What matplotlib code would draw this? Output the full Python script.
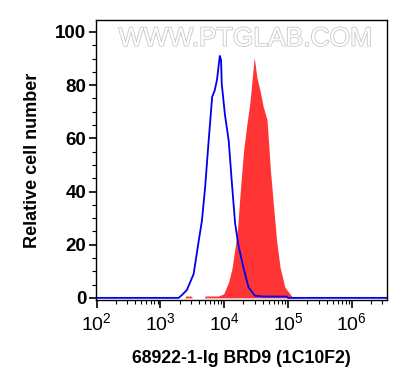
import matplotlib
matplotlib.use("Agg")
import numpy as np
from matplotlib import pyplot as plt
from matplotlib import ticker
from matplotlib import patheffects as pe

plt.rcParams["font.family"] = ["Liberation Sans", "DejaVu Sans"]
plt.rcParams["mathtext.fontset"] = "custom"
plt.rcParams["mathtext.rm"] = "Liberation Sans"
plt.rcParams["mathtext.it"] = "Liberation Sans"

# Isotype control (blue outline)
control_x = [100, 1930, 2200, 2600, 3311, 3981, 4467, 5012, 5689, 6457, 7079, 7691,
             8511, 8913, 9120, 10233, 11749, 13183, 14791, 16596, 19953,
             23988, 30200, 40738, 95500, 100000, 4000000]
control_y = [0, 0, 1.2, 3, 9, 21.5, 29, 41.6, 59, 75.6, 78, 82,
             91, 89.4, 80.6, 69, 59, 43, 28, 20, 11.4,
             4, 0.8, 0.5, 0.5, 0, 0]

# Stained sample (red fill)
sample_x = [100, 2400, 2500, 3000, 3160, 4900, 5000, 8000, 8700, 9800,
            11700, 13200, 14800, 16200, 17800, 20000, 22650, 25100, 26900,
            29500, 32400, 36300, 40700, 46800, 52500, 58900, 66100, 75000,
            89100, 114800, 141000, 4000000]
sample_y = [0, 0, 0.7, 0.7, 0, 0, 0.7, 0.7, 1, 1.5,
            6, 11, 19, 26.5, 40, 55, 65.5, 73, 80.6,
            90.5, 83, 78, 72, 67, 49, 35, 21.5, 11.4,
            4, 0.5, 0, 0]

fig = plt.figure(figsize=(4.08, 3.9), dpi=100)
ax = fig.add_axes([96 / 408, 1 - 300 / 390, 291 / 408, 280 / 390])

ax.fill_between(sample_x, sample_y, 0, color="#ff3535", lw=0)
ax.plot(control_x, control_y, color="#0000ee", lw=1.3)

ax.set_xscale("log")
ax.set_xlim(10 ** 1.99, 10 ** 6.55)
ax.set_ylim(-0.8, 104.5)

# Ticks
ax.set_yticks([0, 20, 40, 60, 80, 100])
ax.yaxis.set_minor_locator(ticker.MultipleLocator(5))
ax.xaxis.set_major_locator(ticker.LogLocator(base=10, numticks=10))
ax.xaxis.set_minor_locator(ticker.LogLocator(base=10, subs=np.arange(2, 10), numticks=20))
ax.xaxis.set_minor_formatter(ticker.NullFormatter())
ax.xaxis.set_major_formatter(
    ticker.FuncFormatter(lambda v, _: r"$10^{%d}$" % round(np.log10(v)))
)
ax.tick_params(axis="y", which="major", length=5, width=1.2, labelsize=13.5, pad=2)
ax.tick_params(axis="y", which="minor", length=3, width=0.8)
ax.tick_params(axis="x", which="major", length=6, width=1.2, labelsize=14, pad=3)
ax.tick_params(axis="x", which="minor", length=3, width=0.8)
for label in ax.get_yticklabels():
    label.set_fontweight("bold")

for side in ax.spines:
    ax.spines[side].set_linewidth(1.0)

# Labels
ax.set_ylabel("Relative cell number", fontsize=13, fontweight="bold", labelpad=10)
ax.set_xlabel("68922-1-Ig BRD9 (1C10F2)", fontsize=12.7, fontweight="bold", labelpad=11)

# Watermark
ax.text(0.512, 0.933, "WWW.PTGLAB.COM", transform=ax.transAxes,
        ha="center", va="center", fontsize=19, color="white",
        path_effects=[pe.withStroke(linewidth=1.2, foreground="#c8c8c8")])

fig.savefig("out.png", dpi=100)
